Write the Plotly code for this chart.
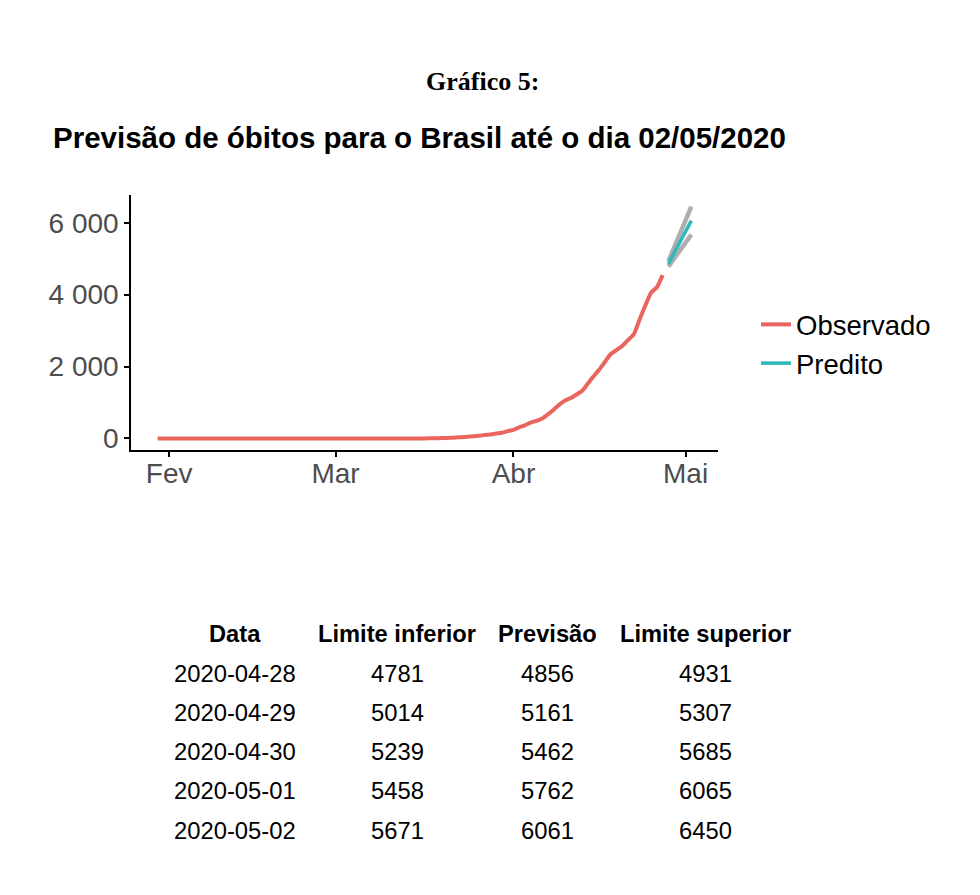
import pandas as pd
import plotly.graph_objects as go

# ---------------- data ----------------
obs_start = "2020-01-30"
observed = [
    0, 0,                                   # Jan 30-31
    0, 0, 0, 0, 0, 0, 0, 0, 0, 0,           # Feb 1-10
    0, 0, 0, 0, 0, 0, 0, 0, 0, 0,           # Feb 11-20
    0, 0, 0, 0, 0, 0, 0, 0, 0,              # Feb 21-29
    0, 0, 0, 0, 0, 0, 0, 0, 0, 0,           # Mar 1-10
    0, 0, 0, 0, 0, 0, 1, 4, 7, 11,          # Mar 11-20
    18, 25, 34, 46, 59, 77, 92, 111, 136, 159, 201,   # Mar 21-31
    240, 310, 365, 440, 486, 553, 667, 800, 941, 1056,  # Apr 1-10
    1124, 1223, 1328, 1532, 1736, 1924, 2141, 2354, 2462, 2575,  # Apr 11-20
    2741, 2906, 3313, 3704, 4057, 4205, 4543,            # Apr 21-27
]
pred_dates = ["2020-04-28", "2020-04-29", "2020-04-30", "2020-05-01", "2020-05-02"]
lower = [4781, 5014, 5239, 5458, 5671]
predicted = [4856, 5161, 5462, 5762, 6061]
upper = [4931, 5307, 5685, 6065, 6450]

x_tick_vals = ["2020-02-01", "2020-03-01", "2020-04-01", "2020-05-01"]
x_tick_text = ["Fev", "Mar", "Abr", "Mai"]
y_tick_vals = [0, 2000, 4000, 6000]
y_tick_text = ["0", "2 000", "4 000", "6 000"]

table_headers = ["Data", "Limite inferior", "Previsão", "Limite superior"]

obs_dates = pd.date_range(obs_start, periods=len(observed), freq="D")

# ---------------- layout geometry ----------------
W, H = 980, 895
L, R, T, B = 131, 718, 195, 450   # plot area in pixels
def px(x):
    return (x - L) / (R - L)
def py(y):
    return (B - y) / (B - T)

SANS = "Liberation Sans, Arial, Helvetica, sans-serif"
SERIF = "Liberation Serif, Times New Roman, serif"
RED = "#EA655E"
TEAL = "#2DB8BA"
GREY = "rgba(165,165,165,0.9)"

fig = go.Figure()
fig.add_trace(go.Scatter(x=obs_dates, y=observed, mode="lines", name="Observado",
                         line=dict(color=RED, width=4, shape="spline", smoothing=0.6)))
fig.add_trace(go.Scatter(x=pred_dates, y=lower, mode="lines", showlegend=False,
                         line=dict(color=GREY, width=4.5), hoverinfo="skip"))
fig.add_trace(go.Scatter(x=pred_dates, y=upper, mode="lines", showlegend=False,
                         line=dict(color=GREY, width=4.5), hoverinfo="skip"))
fig.add_trace(go.Scatter(x=pred_dates, y=predicted, mode="lines", name="Predito",
                         line=dict(color=TEAL, width=3.5)))

# ranges with 5% expansion (ggplot-like)
x0 = obs_dates[0]
x1 = pd.Timestamp(pred_dates[-1])
span = x1 - x0
xr = [x0 - span * 0.05, x1 + span * 0.05]
ymax = max(upper)
yr = [-0.05 * ymax, ymax * 1.05]

fig.update_xaxes(range=xr, tickvals=x_tick_vals, ticktext=x_tick_text,
                 showline=True, linecolor="black", linewidth=1.5,
                 ticks="outside", ticklen=5, tickwidth=1.5, tickcolor="black",
                 showgrid=False, zeroline=False, ticklabelstandoff=-7,
                 tickfont=dict(family=SANS, size=28, color="#4D4D4D"))
fig.update_yaxes(range=yr, tickvals=y_tick_vals, ticktext=y_tick_text,
                 showline=True, linecolor="black", linewidth=1.5,
                 ticks="outside", ticklen=5, tickwidth=1.5, tickcolor="black",
                 showgrid=False, zeroline=False,
                 tickfont=dict(family=SANS, size=28, color="#4D4D4D"))

annotations = [
    dict(text="<b>Gráfico 5:</b>", x=px(482), y=py(81), xanchor="center", yanchor="middle",
         font=dict(family=SERIF, size=26, color="black")),
    dict(text="<b>Previsão de óbitos para o Brasil até o dia 02/05/2020</b>",
         x=px(51), y=py(138), xanchor="left", yanchor="middle",
         font=dict(family=SANS, size=29.5, color="black")),
]

col_x = [235, 397, 547, 705]
header_y = 634
row_y0, row_dy = 673, 39.3
for cx, htxt in zip(col_x, table_headers):
    annotations.append(dict(text="<b>" + htxt + "</b>", x=px(cx), y=py(header_y),
                            xanchor="center", yanchor="middle",
                            font=dict(family=SANS, size=23.7, color="black")))
for i in range(len(pred_dates)):
    vals = [pred_dates[i], str(lower[i]), str(predicted[i]), str(upper[i])]
    for cx, v in zip(col_x, vals):
        annotations.append(dict(text=v, x=px(cx), y=py(row_y0 + i * row_dy),
                                xanchor="center", yanchor="middle",
                                font=dict(family=SANS, size=23.8, color="black")))

for a in annotations:
    a.update(xref="paper", yref="paper", showarrow=False)

fig.update_layout(
    width=W, height=H,
    margin=dict(l=L, r=W - R, t=T, b=H - B, pad=0),
    paper_bgcolor="white", plot_bgcolor="white",
    showlegend=True,
    legend=dict(x=px(756), y=py(344), xanchor="left", yanchor="middle",
                font=dict(family=SANS, size=27.5, color="black"),
                bgcolor="rgba(0,0,0,0)", tracegroupgap=0, itemwidth=30),
    annotations=annotations,
)

fig.write_html("out.html")
